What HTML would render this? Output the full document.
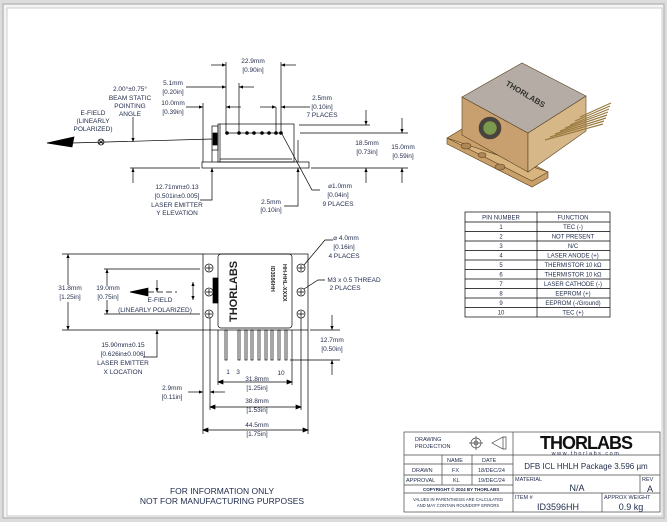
<!DOCTYPE html>
<html><head><meta charset="utf-8"><style>
html,body{margin:0;padding:0;background:#e6e6e6;}
svg{display:block;}
text{font-family:"Liberation Sans",sans-serif;fill:#1f2a4a;}
</style></head><body>
<svg width="667" height="522" viewBox="0 0 667 522" xmlns="http://www.w3.org/2000/svg">
<defs>
<marker id="a" viewBox="0 0 10 10" refX="10" refY="5" markerWidth="5" markerHeight="4" orient="auto-start-reverse" markerUnits="userSpaceOnUse"><path d="M0,1 L10,5 L0,9z" fill="#000"/></marker>
</defs>
<rect x="0" y="0" width="667" height="522" fill="#dcdcdc"/>
<rect x="3" y="4" width="661" height="514" fill="#f4f4f4" stroke="#bbb" stroke-width="1.5"/>
<rect x="7" y="8" width="655" height="508" fill="#fff" stroke="#ccc" stroke-width="1"/>

<g stroke="#000" stroke-width="0.7" fill="none">
<rect x="218" y="124" width="76" height="38"/>
<line x1="220" y1="124" x2="220" y2="162"/>
<line x1="220" y1="159" x2="292" y2="159"/>
<rect x="202" y="162" width="107" height="6"/>
<rect x="212" y="126" width="6" height="24"/>
<rect x="213" y="133" width="4" height="12" fill="#000"/>
<line x1="212" y1="139" x2="72" y2="143"/>
<path d="M47,143 L74,137 L72,147z" fill="#000"/>
<circle cx="101" cy="142" r="3"/><path d="M99,140 l4,4 M103,140 l-4,4"/>
<line x1="227" y1="133" x2="281" y2="133"/>
<line x1="226" y1="62" x2="226" y2="133"/><line x1="281" y1="62" x2="281" y2="133"/>
<line x1="211" y1="65" x2="226" y2="65" marker-end="url(#a)"/><line x1="296" y1="65" x2="281" y2="65" marker-end="url(#a)"/>
<line x1="239" y1="83" x2="239" y2="133"/>
<line x1="186" y1="87" x2="226" y2="87" marker-end="url(#a)"/><line x1="254" y1="87" x2="239" y2="87" marker-end="url(#a)"/>
<line x1="203" y1="103" x2="203" y2="162"/>
<line x1="186" y1="107" x2="203" y2="107" marker-end="url(#a)"/><line x1="241" y1="107" x2="226" y2="107" marker-end="url(#a)"/>
<line x1="276" y1="107" x2="276" y2="133"/>
<line x1="260" y1="107" x2="276" y2="107" marker-end="url(#a)"/><line x1="310" y1="107" x2="281" y2="107" marker-end="url(#a)"/>
<line x1="299" y1="125" x2="370" y2="125"/>
<line x1="300" y1="133" x2="408" y2="133"/>
<line x1="130" y1="168" x2="200" y2="168"/><line x1="311" y1="168" x2="408" y2="168"/>
<line x1="366" y1="110" x2="366" y2="125" marker-end="url(#a)"/><line x1="366" y1="183" x2="366" y2="168" marker-end="url(#a)"/>
<line x1="402" y1="118" x2="402" y2="133" marker-end="url(#a)"/><line x1="402" y1="183" x2="402" y2="168" marker-end="url(#a)"/>
<line x1="133" y1="117" x2="133" y2="142" marker-end="url(#a)"/>
<line x1="133" y1="183" x2="133" y2="168" marker-end="url(#a)"/>
<line x1="212" y1="150" x2="212" y2="162"/>
<polyline points="212,183 212,200 200,200" /><line x1="212" y1="183" x2="212" y2="168" marker-end="url(#a)"/>
<polyline points="298,183 298,206 284,206"/><line x1="298" y1="183" x2="298" y2="168" marker-end="url(#a)"/>
<line x1="298" y1="140" x2="298" y2="162"/>
<polyline points="282,134 312,190 320,190"/>
</g>
<g fill="#000">
<circle cx="227" cy="133" r="1.8"/><circle cx="239" cy="133" r="1.8"/><circle cx="247" cy="133" r="1.8"/><circle cx="254" cy="133" r="1.8"/><circle cx="262" cy="133" r="1.8"/><circle cx="269" cy="133" r="1.8"/><circle cx="276" cy="133" r="1.8"/><circle cx="281" cy="133" r="1.8"/>
</g>
<g font-size="6.5" text-anchor="middle">
<text x="253" y="63">22.9mm</text><text x="253" y="72">[0.90in]</text>
<text x="173" y="85">5.1mm</text><text x="173" y="94">[0.20in]</text>
<text x="173" y="105">10.0mm</text><text x="173" y="114">[0.39in]</text>
<text x="130" y="91">2.00°±0.75°</text><text x="130" y="100">BEAM STATIC</text><text x="130" y="108">POINTING</text><text x="130" y="116">ANGLE</text>
<text x="93" y="115">E-FIELD</text><text x="93" y="123">(LINEARLY</text><text x="93" y="131">POLARIZED)</text>
<text x="322" y="100">2.5mm</text><text x="322" y="109">[0.10in]</text><text x="322" y="117">7 PLACES</text>
<text x="367" y="145">18.5mm</text><text x="367" y="154">[0.73in]</text>
<text x="403" y="149">15.0mm</text><text x="403" y="158">[0.59in]</text>
<text x="177" y="189">12.71mm±0.13</text><text x="177" y="198">[0.501in±0.005]</text><text x="177" y="207">LASER EMITTER</text><text x="177" y="215">Y ELEVATION</text>
<text x="271" y="204">2.5mm</text><text x="271" y="212">[0.10in]</text>
<text x="340" y="188">⌀1.0mm</text><text x="338" y="197">[0.04in]</text><text x="338" y="206">9 PLACES</text>
</g>

<g stroke="#000" stroke-width="0.7" fill="none">
<rect x="203" y="254" width="105" height="76"/>
<rect x="218" y="254" width="74" height="74" rx="3"/>
<rect x="213" y="278" width="5" height="25" fill="#000"/>
<g>
<circle cx="209" cy="268" r="4"/><circle cx="209" cy="292" r="4"/><circle cx="209" cy="314" r="4"/>
<circle cx="301" cy="268" r="4"/><circle cx="301" cy="292" r="4"/><circle cx="301" cy="314" r="4"/>
<path d="M206,268h6M209,265v6M206,292h6M209,289v6M206,314h6M209,311v6M298,268h6M301,265v6M298,292h6M301,289v6M298,314h6M301,311v6"/>
</g>
<rect x="225" y="330" width="2" height="30"/><rect x="238" y="330" width="2" height="30"/><rect x="245" y="330" width="2" height="30"/><rect x="251" y="330" width="2" height="30"/><rect x="258" y="330" width="2" height="30"/><rect x="265" y="330" width="2" height="30"/><rect x="271" y="330" width="2" height="30"/><rect x="278" y="330" width="2" height="30"/><rect x="285" y="330" width="2" height="30"/>
<line x1="62" y1="254" x2="203" y2="254"/><line x1="62" y1="330" x2="203" y2="330"/>
<line x1="68" y1="285" x2="68" y2="254" marker-end="url(#a)"/><line x1="68" y1="302" x2="68" y2="330" marker-end="url(#a)"/>
<line x1="104" y1="269" x2="200" y2="269"/><line x1="104" y1="314" x2="200" y2="314"/>
<line x1="107" y1="285" x2="107" y2="269" marker-end="url(#a)"/><line x1="107" y1="300" x2="107" y2="314" marker-end="url(#a)"/>
<path d="M130,292 L148,288 L148,296z" fill="#000"/>
<line x1="148" y1="292" x2="177" y2="292" stroke-dasharray="6,3"/>
<line x1="157" y1="280" x2="157" y2="292" marker-end="url(#a)"/>
<line x1="193" y1="291" x2="193" y2="282" marker-end="url(#a)"/><line x1="193" y1="291" x2="193" y2="300" marker-end="url(#a)"/>
<polyline points="157,345 157,357 143,357"/><line x1="157" y1="345" x2="157" y2="330" marker-end="url(#a)"/>
<line x1="218" y1="330" x2="218" y2="385"/><line x1="292" y1="330" x2="292" y2="385"/>
<line x1="218" y1="382" x2="292" y2="382"/><path d="M218,382l5,-2v4zM292,382l-5,-2v4z" fill="#000"/>
<line x1="210" y1="318" x2="210" y2="410"/><line x1="301" y1="318" x2="301" y2="410"/>
<line x1="210" y1="407" x2="301" y2="407"/><path d="M210,407l5,-2v4zM301,407l-5,-2v4z" fill="#000"/>
<line x1="203" y1="330" x2="203" y2="434"/><line x1="308" y1="330" x2="308" y2="434"/>
<line x1="203" y1="430" x2="308" y2="430"/><path d="M203,430l5,-2v4zM308,430l-5,-2v4z" fill="#000"/>
<line x1="188" y1="392" x2="203" y2="392" marker-end="url(#a)"/><line x1="225" y1="392" x2="210" y2="392" marker-end="url(#a)"/>
<line x1="310" y1="330" x2="340" y2="330"/><line x1="290" y1="360" x2="340" y2="360"/>
<line x1="332" y1="315" x2="332" y2="330" marker-end="url(#a)"/><line x1="332" y1="375" x2="332" y2="360" marker-end="url(#a)"/>
<polyline points="304,265 325,240 333,240"/>
<polyline points="304,289 318,280 325,280"/>
</g>
<g font-size="6.5" text-anchor="middle">
<text x="70" y="290">31.8mm</text><text x="70" y="299">[1.25in]</text>
<text x="108" y="290">19.0mm</text><text x="108" y="299">[0.75in]</text>
<text x="160" y="302">E-FIELD</text><text x="155" y="312">(LINEARLY POLARIZED)</text>
<text x="123" y="347">15.90mm±0.15</text><text x="123" y="356">[0.626in±0.006]</text><text x="123" y="365">LASER EMITTER</text><text x="123" y="374">X LOCATION</text>
<text x="228" y="374">1</text><text x="238" y="374">3</text><text x="281" y="375">10</text>
<text x="257" y="381">31.8mm</text><text x="257" y="390">[1.25in]</text>
<text x="257" y="403">38.8mm</text><text x="257" y="412">[1.53in]</text>
<text x="257" y="427">44.5mm</text><text x="257" y="436">[1.75in]</text>
<text x="172" y="390">2.9mm</text><text x="172" y="399">[0.11in]</text>
<text x="332" y="342">12.7mm</text><text x="332" y="351">[0.50in]</text>
<text x="346" y="240">⌀ 4.0mm</text><text x="344" y="249">[0.16in]</text><text x="344" y="258">4 PLACES</text>
<text x="354" y="282">M3 x 0.5 THREAD</text><text x="345" y="290">2 PLACES</text>
</g>
<text transform="translate(237,322) rotate(-90)" font-size="11" font-weight="bold" style="fill:#222">THORLABS</text>
<text transform="translate(271,266) rotate(90)" font-size="5.5" font-weight="bold" style="fill:#222">ID3596HH</text>
<text transform="translate(283,264) rotate(90)" font-size="5.5" font-weight="bold" style="fill:#222">HH-HHL-XXXX</text>

<g stroke="#5a4020" stroke-width="0.6">
<polygon points="447,138 462,129 548,172 548,178 532,187 447,144" fill="#c9a06a"/>
<polygon points="447,138 532,181 548,172" fill="#d8b47e"/>
<polygon points="462,97 528,133 528,172 462,135" fill="#c8a070"/>
<polygon points="528,133 586,96 586,131 528,172" fill="#d6b888"/>
<polygon points="462,97 522,63 586,96 528,133" fill="#b5ada5"/>
<circle cx="490" cy="128" r="11" fill="#444"/><circle cx="490" cy="128" r="7" fill="#7a9a50"/>
<ellipse cx="466" cy="146" rx="5" ry="3" fill="#b08858"/><ellipse cx="482" cy="155" rx="4" ry="2.5" fill="#b08858"/><ellipse cx="500" cy="167" rx="5" ry="3" fill="#b08858"/>
<g stroke="#9a7a40" stroke-width="1.2"><line x1="545" y1="140" x2="603" y2="124"/><line x1="550" y1="137" x2="604" y2="121"/><line x1="555" y1="134" x2="606" y2="118"/><line x1="560" y1="131" x2="607" y2="115"/><line x1="565" y1="128" x2="608" y2="112"/><line x1="570" y1="125" x2="609" y2="109"/><line x1="575" y1="121" x2="610" y2="106"/><line x1="580" y1="117" x2="611" y2="103"/></g>
</g>
<text transform="translate(505,85) rotate(31)" font-size="8" font-weight="bold" style="fill:#333">THORLABS</text>

<g stroke="#000" stroke-width="0.7" fill="none">
<rect x="465" y="212" width="145" height="105"/>
<line x1="537" y1="212" x2="537" y2="317"/>
<line x1="465" y1="222" x2="610" y2="222"/><line x1="465" y1="231.5" x2="610" y2="231.5"/><line x1="465" y1="241" x2="610" y2="241"/><line x1="465" y1="250.5" x2="610" y2="250.5"/><line x1="465" y1="260" x2="610" y2="260"/><line x1="465" y1="269.5" x2="610" y2="269.5"/><line x1="465" y1="279" x2="610" y2="279"/><line x1="465" y1="288.5" x2="610" y2="288.5"/><line x1="465" y1="298" x2="610" y2="298"/><line x1="465" y1="307.5" x2="610" y2="307.5"/>
</g>
<g font-size="6" text-anchor="middle">
<text x="501" y="219.5">PIN NUMBER</text><text x="573" y="219.5">FUNCTION</text>
<text x="501" y="229">1</text><text x="573" y="229">TEC (-)</text>
<text x="501" y="238.5">2</text><text x="573" y="238.5">NOT PRESENT</text>
<text x="501" y="248">3</text><text x="573" y="248">N/C</text>
<text x="501" y="257.5">4</text><text x="573" y="257.5">LASER ANODE (+)</text>
<text x="501" y="267">5</text><text x="573" y="267">THERMISTOR 10 kΩ</text>
<text x="501" y="276.5">6</text><text x="573" y="276.5">THERMISTOR 10 kΩ</text>
<text x="501" y="286">7</text><text x="573" y="286">LASER CATHODE (-)</text>
<text x="501" y="295.5">8</text><text x="573" y="295.5">EEPROM (+)</text>
<text x="501" y="305">9</text><text x="573" y="305">EEPROM (-/Ground)</text>
<text x="501" y="314.5">10</text><text x="573" y="314.5">TEC (+)</text>
</g>

<g stroke="#444" stroke-width="0.7" fill="none">
<rect x="404" y="432" width="256" height="80"/>
<line x1="513" y1="432" x2="513" y2="512"/>
<line x1="404" y1="455" x2="660" y2="455"/>
<line x1="404" y1="464" x2="513" y2="464"/>
<line x1="404" y1="475" x2="660" y2="475"/>
<line x1="404" y1="485" x2="513" y2="485"/>
<line x1="404" y1="493" x2="660" y2="493"/>
<line x1="442" y1="455" x2="442" y2="485"/><line x1="472" y1="455" x2="472" y2="485"/>
<line x1="640" y1="475" x2="640" y2="493"/><line x1="602" y1="493" x2="602" y2="512"/>
<circle cx="476" cy="443" r="5"/><circle cx="476" cy="443" r="2"/><path d="M469,443h14M476,436v14"/>
<path d="M492,443 L503,437 V449z M503,437h3v12h-3"/>
</g>
<g font-size="5.5">
<text x="415" y="441">DRAWING</text><text x="415" y="448">PROJECTION</text>
<text x="447" y="462">NAME</text><text x="482" y="462">DATE</text>
<text x="412" y="472">DRAWN</text><text x="452" y="472">FX</text><text x="478" y="472">18/DEC/24</text>
<text x="406" y="482">APPROVAL</text><text x="453" y="482">KL</text><text x="478" y="482">19/DEC/24</text>
<text x="423" y="491" font-size="4.5" font-weight="bold">COPYRIGHT © 2024 BY THORLABS</text>
<text x="458" y="501" font-size="4.2" text-anchor="middle">VALUES IN PARENTHESIS ARE CALCULATED</text>
<text x="458" y="507" font-size="4.2" text-anchor="middle">AND MAY CONTAIN ROUNDOFF ERRORS</text>
<text x="515" y="481">MATERIAL</text><text x="515" y="499">ITEM #</text>
<text x="642" y="481">REV</text><text x="604" y="499">APPROX WEIGHT</text>
</g>
<text x="586" y="449" font-size="18" font-weight="bold" text-anchor="middle" style="fill:#111" letter-spacing="-1">THORLABS</text>
<text x="586" y="455" font-size="5.5" text-anchor="middle" letter-spacing="1.5">www.thorlabs.com</text>
<text x="586" y="469" font-size="8" text-anchor="middle">DFB ICL HHLH Package 3.596 µm</text>
<text x="577" y="491" font-size="9" text-anchor="middle">N/A</text>
<text x="650" y="492" font-size="9" text-anchor="middle">A</text>
<text x="558" y="510" font-size="9" text-anchor="middle">ID3596HH</text>
<text x="631" y="510" font-size="9" text-anchor="middle">0.9 kg</text>

<text x="222" y="494" font-size="8.5" text-anchor="middle">FOR INFORMATION ONLY</text>
<text x="222" y="504" font-size="8.5" text-anchor="middle">NOT FOR MANUFACTURING PURPOSES</text>
</svg>
</body></html>
